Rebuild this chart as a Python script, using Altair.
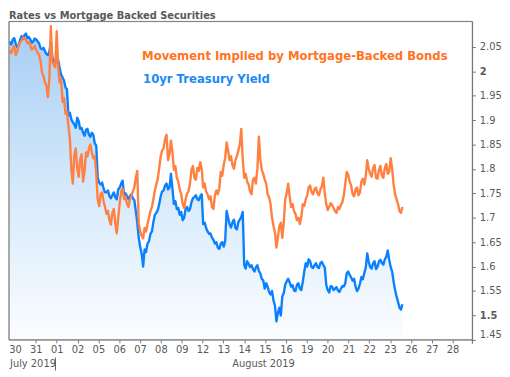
import altair as alt
import pandas as pd

# ---------------- data ----------------
day_labels = ["30", "31", "01", "02", "05", "06", "07", "08", "09", "12", "13",
              "14", "15", "16", "19", "20", "21", "22", "23", "26", "27", "28"]
month_labels = ["July 2019", "August 2019"]
series_names = ["Movement Implied by Mortgage-Backed Bonds", "10yr Treasury Yield"]
y_ticks = [1.45, 1.5, 1.55, 1.6, 1.65, 1.7, 1.75, 1.8, 1.85, 1.9, 1.95, 2, 2.05]

# sampling grid in trading days (0 = Jul 30); readings on the grid and halfway between
t_start = -0.25
t_step = 0.1406

treasury = [
    2.061, 2.065, 2.057, 2.053, 2.072, 2.074, 2.068, 2.065, 2.061, 2.065,
    2.057, 2.045, 2.041, 2.033, 2.061, 2.021, 2.027, 2.007, 1.987, 1.967,
    1.909, 1.901, 1.891, 1.905, 1.882, 1.874, 1.880, 1.870, 1.874, 1.852,
    1.782, 1.768, 1.760, 1.752, 1.744, 1.746, 1.742, 1.758, 1.770, 1.746,
    1.744, 1.744, 1.740, 1.714, 1.659, 1.627, 1.635, 1.647, 1.667, 1.691,
    1.710, 1.728, 1.754, 1.766, 1.758, 1.790, 1.728, 1.718, 1.706, 1.695,
    1.718, 1.714, 1.732, 1.742, 1.738, 1.744, 1.687, 1.679, 1.667, 1.659,
    1.647, 1.639, 1.647, 1.641, 1.714, 1.687, 1.691, 1.679, 1.691, 1.702,
    1.603, 1.611, 1.599, 1.595, 1.599, 1.591, 1.575, 1.555, 1.559, 1.543,
    1.531, 1.488, 1.516, 1.539, 1.563, 1.575, 1.559, 1.551, 1.563, 1.555,
    1.569, 1.607, 1.615, 1.599, 1.603, 1.599, 1.607, 1.603, 1.563, 1.547,
    1.559, 1.555, 1.551, 1.555, 1.559, 1.587, 1.583, 1.571, 1.559, 1.555,
    1.579, 1.587, 1.627, 1.599, 1.607, 1.595, 1.611, 1.607, 1.615, 1.633,
    1.599, 1.569, 1.539, 1.516, 1.523,
]
treasury_between = [
    2.055, 2.068, 2.049, 2.064, 2.066, 2.077, 2.070, 2.058, 2.067, 2.061,
    2.047, 2.048, 2.035, 2.040, 2.030, 2.015, 2.023, 1.993, 1.981, 1.963,
    1.915, 1.896, 1.884, 1.898, 1.884, 1.868, 1.882, 1.866, 1.870, 1.848,
    1.772, 1.772, 1.752, 1.756, 1.740, 1.752, 1.738, 1.762, 1.776, 1.750,
    1.738, 1.748, 1.736, 1.690, 1.640, 1.600, 1.630, 1.652, 1.672, 1.706,
    1.716, 1.744, 1.756, 1.770, 1.762, 1.760, 1.734, 1.720, 1.712, 1.700,
    1.722, 1.718, 1.740, 1.746, 1.736, 1.748, 1.690, 1.672, 1.668, 1.655,
    1.650, 1.636, 1.650, 1.652, 1.700, 1.680, 1.696, 1.676, 1.696, 1.712,
    1.596, 1.606, 1.603, 1.590, 1.603, 1.586, 1.572, 1.566, 1.548, 1.550,
    1.520, 1.505, 1.500, 1.546, 1.570, 1.568, 1.562, 1.550, 1.566, 1.552,
    1.590, 1.600, 1.611, 1.597, 1.607, 1.597, 1.610, 1.598, 1.552, 1.560,
    1.552, 1.558, 1.548, 1.560, 1.566, 1.590, 1.578, 1.575, 1.550, 1.565,
    1.574, 1.598, 1.610, 1.596, 1.611, 1.600, 1.614, 1.604, 1.620, 1.614,
    1.590, 1.552, 1.528, 1.512,
]

mbs = [
    2.043, 2.047, 2.033, 2.053, 2.063, 2.067, 2.057, 2.053, 2.047, 2.043,
    2.033, 1.997, 1.977, 1.947, 2.092, 2.013, 2.082, 1.977, 1.937, 1.913,
    1.888, 1.798, 1.828, 1.802, 1.818, 1.774, 1.834, 1.842, 1.834, 1.826,
    1.738, 1.748, 1.734, 1.708, 1.695, 1.710, 1.689, 1.699, 1.754, 1.738,
    1.728, 1.738, 1.754, 1.782, 1.689, 1.663, 1.679, 1.687, 1.714, 1.738,
    1.768, 1.802, 1.838, 1.862, 1.818, 1.858, 1.798, 1.782, 1.758, 1.728,
    1.738, 1.754, 1.798, 1.782, 1.802, 1.814, 1.762, 1.754, 1.738, 1.722,
    1.746, 1.748, 1.794, 1.808, 1.854, 1.818, 1.808, 1.818, 1.838, 1.882,
    1.782, 1.774, 1.754, 1.778, 1.770, 1.866, 1.798, 1.778, 1.748, 1.728,
    1.683, 1.639, 1.683, 1.659, 1.738, 1.770, 1.722, 1.714, 1.695, 1.687,
    1.728, 1.738, 1.762, 1.752, 1.758, 1.750, 1.758, 1.782, 1.728, 1.722,
    1.726, 1.714, 1.722, 1.726, 1.746, 1.794, 1.774, 1.748, 1.758, 1.746,
    1.774, 1.768, 1.818, 1.790, 1.802, 1.782, 1.798, 1.786, 1.802, 1.790,
    1.822, 1.768, 1.738, 1.714, 1.722,
]
mbs_between = [
    2.037, 2.051, 2.040, 2.058, 2.069, 2.064, 2.060, 2.044, 2.052, 2.038,
    2.020, 1.990, 1.970, 1.985, 2.020, 2.008, 2.010, 1.985, 1.945, 1.918,
    1.862, 1.770, 1.842, 1.784, 1.830, 1.795, 1.826, 1.850, 1.822, 1.790,
    1.724, 1.752, 1.722, 1.714, 1.686, 1.718, 1.668, 1.730, 1.760, 1.744,
    1.722, 1.744, 1.762, 1.796, 1.672, 1.658, 1.672, 1.700, 1.722, 1.756,
    1.780, 1.826, 1.842, 1.870, 1.830, 1.835, 1.806, 1.774, 1.748, 1.720,
    1.750, 1.770, 1.806, 1.778, 1.796, 1.800, 1.770, 1.748, 1.744, 1.718,
    1.756, 1.760, 1.786, 1.822, 1.838, 1.826, 1.800, 1.826, 1.850, 1.820,
    1.790, 1.768, 1.748, 1.782, 1.800, 1.820, 1.790, 1.770, 1.742, 1.700,
    1.670, 1.660, 1.690, 1.690, 1.750, 1.745, 1.728, 1.708, 1.700, 1.702,
    1.724, 1.746, 1.766, 1.748, 1.762, 1.746, 1.764, 1.750, 1.716, 1.730,
    1.720, 1.710, 1.718, 1.732, 1.770, 1.788, 1.766, 1.744, 1.762, 1.752,
    1.780, 1.786, 1.800, 1.784, 1.808, 1.780, 1.806, 1.782, 1.810, 1.794,
    1.800, 1.748, 1.728, 1.710,
]

rows = []
for k, (a, b) in enumerate(zip(treasury, mbs)):
    rows.append({"t": round(t_start + k * t_step, 4), "treasury": a, "mbs": b})
for k, (a, b) in enumerate(zip(treasury_between, mbs_between)):
    rows.append({"t": round(t_start + (k + 0.5) * t_step, 4), "treasury": a, "mbs": b})
df = pd.DataFrame(rows).sort_values("t").reset_index(drop=True)

# ---------------- layout / style ----------------
W, H = 470, 323
X_DOMAIN = [-0.29, 21.95]
Y_DOMAIN = [1.45, 2.102]
FONT = "DejaVu Sans"
GREY = "#595959"
FRAME = "#777777"
ORANGE = "#FF8040"
BLUE = "#0A80FF"


def xpix(t):
    return (t - X_DOMAIN[0]) / (X_DOMAIN[1] - X_DOMAIN[0]) * W


label_expr = "[" + ",".join("'%s'" % d for d in day_labels) + "][datum.value]"

xscale = alt.Scale(domain=X_DOMAIN, nice=False, zero=False)
yscale = alt.Scale(domain=Y_DOMAIN, nice=False, zero=False)

x_axis = alt.Axis(
    values=list(range(len(day_labels))), labelExpr=label_expr, title=None,
    domain=False, grid=False, tickSize=3, tickColor=FRAME,
    tickOpacity={"condition": {"test": "datum.value == 0", "value": 0}, "value": 1},
    labelFont=FONT, labelFontSize=10, labelColor=GREY, labelPadding=2,
    labelFlush=False, labelOverlap=False,
)
y_axis = alt.Axis(
    orient="right", values=y_ticks, labelExpr="format(datum.value, '.2~f')",
    title=None, domain=False, grid=False, tickSize=3, tickColor=FRAME,
    labelFont=FONT, labelFontSize=10, labelColor=GREY, labelPadding=4,
    labelFontWeight={"condition": {"test": "datum.value == 2 || datum.value == 1.5",
                                   "value": "bold"}, "value": "normal"},
    labelFlush=True, labelOverlap=False,
)

X = alt.X("t:Q", scale=xscale, axis=x_axis)

base = alt.Chart(df)

gradient = alt.Gradient(
    gradient="linear",
    stops=[alt.GradientStop(color="#a9cff5", offset=0),
           alt.GradientStop(color="#d9ebfb", offset=0.55),
           alt.GradientStop(color="#fbfdff", offset=1)],
    x1=0, x2=0, y1=0, y2=1,
)

area = base.mark_area(color=gradient).encode(
    x=X,
    y=alt.Y("treasury:Q", scale=yscale, axis=y_axis, stack=None),
    y2=alt.datum(Y_DOMAIN[0]),
)
blue_line = base.mark_line(color=BLUE, strokeWidth=2.4, strokeJoin="round").encode(
    x=X, y=alt.Y("treasury:Q", scale=yscale, axis=y_axis)
)
orange_line = base.mark_line(color=ORANGE, strokeWidth=2.4, strokeJoin="round").encode(
    x=X, y=alt.Y("mbs:Q", scale=yscale, axis=y_axis)
)

legend_mbs = alt.Chart(pd.DataFrame({"label": [series_names[0]]})).mark_text(
    align="left", baseline="alphabetic", font=FONT, fontSize=11.8,
    fontWeight="bold", color="#FF7424"
).encode(text="label:N", x=alt.value(135), y=alt.value(39.5))

legend_tsy = alt.Chart(pd.DataFrame({"label": [series_names[1]]})).mark_text(
    align="left", baseline="alphabetic", font=FONT, fontSize=11.8,
    fontWeight="bold", color="#1A8AF5"
).encode(text="label:N", x=alt.value(136), y=alt.value(62.5))

july = alt.Chart(pd.DataFrame({"label": [month_labels[0]]})).mark_text(
    align="left", baseline="middle", font=FONT, fontSize=10, color=GREY
).encode(text="label:N", x=alt.value(1), y=alt.value(H + 25))

august = alt.Chart(pd.DataFrame({"label": [month_labels[1]]})).mark_text(
    align="center", baseline="middle", font=FONT, fontSize=10, color=GREY
).encode(text="label:N", x=alt.value(xpix((2 + X_DOMAIN[1]) / 2 - 0.05)), y=alt.value(H + 25))

separator = alt.Chart(pd.DataFrame({"k": [0]})).mark_rule(color=GREY, strokeWidth=1).encode(
    x=alt.value(xpix(1.94)), y=alt.value(H + 18), y2=alt.value(H + 31)
)

# plot frame drawn above the fill
frame_df = pd.DataFrame({"k": [0]})
frame_left = alt.Chart(frame_df).mark_rule(color=FRAME, strokeWidth=1.2).encode(
    x=alt.value(0), y=alt.value(0), y2=alt.value(H))
frame_bottom = alt.Chart(frame_df).mark_rule(color=FRAME, strokeWidth=1.2).encode(
    x=alt.value(0), x2=alt.value(W), y=alt.value(H))
frame_top = alt.Chart(frame_df).mark_rule(color=FRAME, strokeWidth=1).encode(
    x=alt.value(0), x2=alt.value(W), y=alt.value(0))
frame_right = alt.Chart(frame_df).mark_rule(color=FRAME, strokeWidth=1.2).encode(
    x=alt.value(W), y=alt.value(0), y2=alt.value(H + 4))

chart = alt.layer(
    area, blue_line, orange_line, legend_mbs, legend_tsy, july, august, separator,
    frame_left, frame_bottom, frame_top, frame_right
).properties(
    width=W, height=H, padding=0,
    title=alt.TitleParams(
        "Rates vs Mortgage Backed Securities", anchor="start", frame="group",
        font=FONT, fontSize=10, fontWeight="bold", color=GREY, offset=0,
    ),
).configure_view(stroke=None).configure(background="white")

chart.save("out.html", embed_options={"renderer": "svg", "actions": False})
